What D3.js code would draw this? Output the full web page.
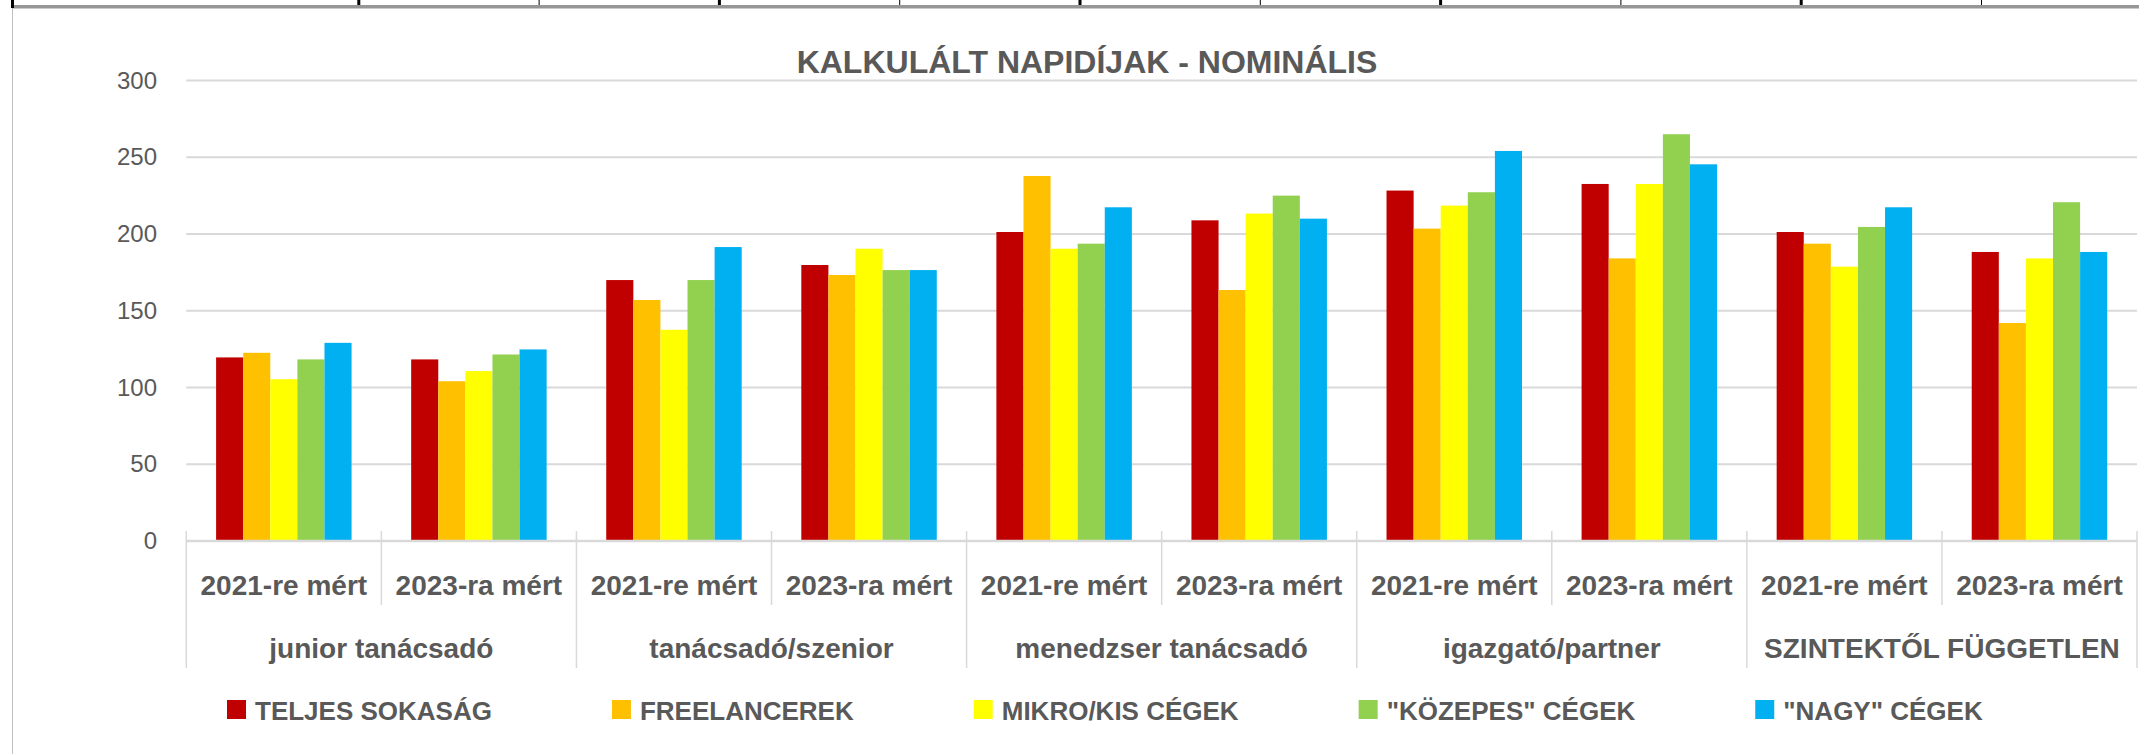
<!DOCTYPE html>
<html>
<head>
<meta charset="utf-8">
<script src="https://cdn.jsdelivr.net/npm/d3@7"></script>
<style>
    html, body { margin: 0; padding: 0; background: #ffffff; }
    svg { display: block; font-family: "Liberation Sans", Arial, sans-serif; }
</style>
</head>
<body>
<svg id="napidijSvg" width="2139" height="754"></svg>
<script>
//data
const levels = ['junior tanácsadó', 'tanácsadó/szenior', 'menedzser tanácsadó', 'igazgató/partner', 'SZINTEKTŐL FÜGGETLEN'];
const years = ['2021-re mért', '2023-ra mért'];
const seriesNames = ['TELJES SOKASÁG', 'FREELANCEREK', 'MIKRO/KIS CÉGEK', '"KÖZEPES" CÉGEK', '"NAGY" CÉGEK'];
const seriesColors = ['#C00000', '#FFC000', '#FFFF00', '#92D050', '#00B0F0'];
const yTicks = [0, 50, 100, 150, 200, 250, 300];

//one value per category (level x year), in the order of the categories
const teljesValues = [119.6, 118.3, 170.0, 179.8, 201.3, 208.9, 228.3, 232.6, 201.3, 188.3];
const freelancerValues = [122.6, 104.1, 157.0, 173.3, 237.8, 163.5, 203.5, 184.1, 193.7, 142.0];
const mikroValues = [105.4, 110.7, 137.6, 190.4, 190.4, 213.3, 218.5, 232.6, 178.7, 184.1];
const kozepesValues = [118.3, 121.5, 170.0, 176.5, 193.7, 225.0, 227.2, 265.0, 204.6, 220.7];
const nagyValues = [129.1, 124.8, 191.5, 176.5, 217.4, 210.0, 254.1, 245.4, 217.4, 188.3];

const allValues = [teljesValues, freelancerValues, mikroValues, kozepesValues, nagyValues];

//build the category list
const categories = [];
levels.forEach(function(level){
    years.forEach(function(year){
        categories.push({ id: level + '|' + year, level: level, year: year });
    });
});

const textColor = '#595959';
const gridColor = '#d9d9d9';

drawChart();

function drawChart(){
    const svg = d3.select('#napidijSvg');

    const left = 186.3;
    const right = 2137;
    const top = 80.5;
    const bottom = 541;

    //background
    svg.append('rect')
        .attr('width', 2139)
        .attr('height', 754)
        .attr('fill', '#ffffff');

    //spreadsheet frame round the chart
    svg.append('rect')
        .attr('x', 12)
        .attr('y', 5)
        .attr('width', 2127)
        .attr('height', 3.5)
        .attr('fill', '#969696');
    svg.append('line')
        .attr('x1', 12.5).attr('x2', 12.5)
        .attr('y1', 5).attr('y2', 754)
        .attr('stroke', '#bfbfbf')
        .attr('stroke-width', 1);
    svg.append('rect')
        .attr('x', 11).attr('y', 0)
        .attr('width', 3).attr('height', 8)
        .attr('fill', '#000000');
    svg.selectAll('.cellMark')
        .data(d3.range(10))
        .enter()
        .append('rect')
            .attr('class', 'cellMark')
            .attr('x', k => 358.8 + 180.3 * k - (k % 2 == 0 ? 1.5 : 0.5))
            .attr('y', 0)
            .attr('width', k => k % 2 == 0 ? 3 : 1)
            .attr('height', 5)
            .attr('fill', '#000000');

    //scales
    const xScale = d3.scaleBand()
        .domain(categories.map(d => d.id))
        .range([left, right])
        .padding(0);

    const xInner = d3.scaleBand()
        .domain(seriesNames)
        .range([0, xScale.bandwidth()])
        .paddingInner(0)
        .paddingOuter(1.1);

    const yScale = d3.scaleLinear()
        .domain([0, 300])
        .range([bottom, top]);

    //gridlines
    svg.append('g')
        .selectAll('line')
        .data(yTicks.filter(t => t > 0))
        .enter()
        .append('line')
            .attr('x1', left)
            .attr('x2', right)
            .attr('y1', d => yScale(d))
            .attr('y2', d => yScale(d))
            .attr('stroke', gridColor)
            .attr('stroke-width', 2);

    //y axis labels
    const yAxis = d3.axisLeft(yScale)
        .tickValues(yTicks)
        .tickSize(0)
        .tickPadding(0);
    const yAxisG = svg.append('g')
        .attr('transform', 'translate(157, 0)')
        .call(yAxis);
    yAxisG.select('.domain').remove();
    yAxisG.selectAll('text')
        .attr('fill', textColor)
        .attr('font-size', '24px')
        .attr('font-family', '"Liberation Sans", Arial, sans-serif');

    //bars
    const barGroups = svg.append('g')
        .selectAll('g')
        .data(allValues)
        .enter()
        .append('g')
            .attr('fill', (d, i) => seriesColors[i]);

    barGroups.each(function(values, i){
        d3.select(this).selectAll('rect')
            .data(values)
            .enter()
            .append('rect')
                .attr('x', (v, j) => xScale(categories[j].id) + xInner(seriesNames[i]))
                .attr('y', v => yScale(v))
                .attr('width', xInner.bandwidth())
                .attr('height', v => yScale(0) - yScale(v));
    });

    //category axis line
    svg.append('line')
        .attr('x1', left)
        .attr('x2', right)
        .attr('y1', bottom)
        .attr('y2', bottom)
        .attr('stroke', gridColor)
        .attr('stroke-width', 2.5);

    //category separators, longer ones between the levels
    const boundaries = d3.range(categories.length + 1);
    svg.append('g')
        .selectAll('line')
        .data(boundaries)
        .enter()
        .append('line')
            .attr('x1', k => left + k * xScale.step())
            .attr('x2', k => left + k * xScale.step())
            .attr('y1', bottom - 10)
            .attr('y2', k => k % 2 == 0 ? 668 : 605)
            .attr('stroke', gridColor)
            .attr('stroke-width', 1.5);

    //year labels
    svg.append('g')
        .selectAll('text')
        .data(categories)
        .enter()
        .append('text')
            .attr('x', d => xScale(d.id) + xScale.bandwidth() / 2)
            .attr('y', 595)
            .attr('text-anchor', 'middle')
            .attr('font-size', '28px')
            .attr('font-weight', 'bold')
            .attr('fill', textColor)
            .text(d => d.year);

    //level labels
    svg.append('g')
        .selectAll('text')
        .data(levels)
        .enter()
        .append('text')
            .attr('x', d => xScale(d + '|' + years[0]) + xScale.bandwidth())
            .attr('y', 658)
            .attr('text-anchor', 'middle')
            .attr('font-size', '28px')
            .attr('font-weight', 'bold')
            .attr('fill', textColor)
            .text(d => d);

    //title
    svg.append('text')
        .attr('x', 1087)
        .attr('y', 73)
        .attr('text-anchor', 'middle')
        .attr('font-size', '32px')
        .attr('font-weight', 'bold')
        .attr('fill', textColor)
        .text('KALKULÁLT NAPIDÍJAK - NOMINÁLIS');

    //legend, items placed one after the other
    let legendX = 227;
    const legendGap = 120;
    seriesNames.forEach(function(name, i){
        svg.append('rect')
            .attr('x', legendX)
            .attr('y', 700)
            .attr('width', 19)
            .attr('height', 19)
            .attr('fill', seriesColors[i]);

        const label = svg.append('text')
            .attr('x', legendX + 28)
            .attr('y', 719.5)
            .attr('font-size', '26px')
            .attr('font-weight', 'bold')
            .attr('fill', textColor)
            .text(name);

        legendX += 28 + label.node().getComputedTextLength() + legendGap;
    });
}
</script>
</body>
</html>
